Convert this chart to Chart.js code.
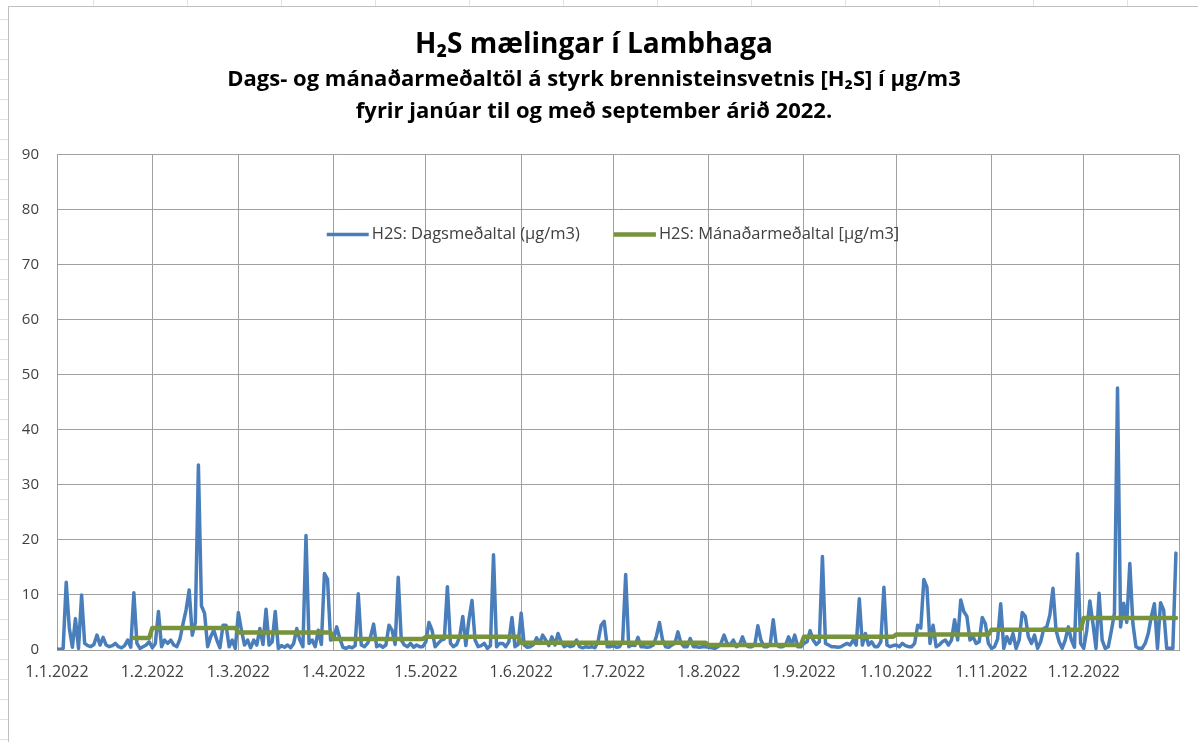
<!DOCTYPE html>
<html lang="is">
<head>
<meta charset="utf-8">
<title>H2S mælingar í Lambhaga</title>
<script src="https://cdn.jsdelivr.net/npm/chart.js@4.4.1/dist/chart.umd.min.js"></script>
<style>
  html, body { margin: 0; padding: 0; }
  body { width: 1198px; height: 742px; overflow: hidden; position: relative; background: #fff; }
  /* spreadsheet cells peeking out round the chart */
  #sheetTop { position: absolute; left: 0; top: 0; width: 1198px; height: 6px;
    background-image: repeating-linear-gradient(to right, transparent 0 93px, #e1e1e1 93px 94px); }
  #sheetLeft { position: absolute; left: 0; top: 0; width: 8px; height: 742px;
    background-image: repeating-linear-gradient(to bottom, transparent 0 19px, #e1e1e1 19px 20px); }
  #frame { position: absolute; left: 8px; top: 6px; width: 1190px; height: 736px;
    border-left: 1px solid #c0c0c0; border-top: 1px solid #c0c0c0; background: #fff; }
  canvas { display: block; }
</style>
</head>
<body>
<div id="sheetTop"></div>
<div id="sheetLeft"></div>
<div id="frame"><canvas id="chart" width="1189" height="735"></canvas></div>
<script>
// day index 0 = 1.1.2022
const monthStartDays = [0, 31, 59, 90, 120, 151, 181, 212, 243, 273, 304, 334];
const monthLabels = ['1.1.2022', '1.2.2022', '1.3.2022', '1.4.2022', '1.5.2022', '1.6.2022',
  '1.7.2022', '1.8.2022', '1.9.2022', '1.10.2022', '1.11.2022', '1.12.2022'];
const yearDays = 365;

// Dagsmeðaltal, one row per month
const dailyMean = [
  0.2,0.1,0.3,12.3,4,0.5,5.7,0.3,10,1.2,0.8,0.6,1.0,2.7,0.9,2.3,0.9,0.6,0.8,1.2,0.6,0.4,0.8,1.8,0.5,10.4,1.2,0.3,0.6,0.9,1.5,
  0.4,1.2,7.0,0.6,1.8,1.2,1.8,0.9,0.6,2.0,4.8,7.3,10.9,2.7,5,33.6,8,6.7,0.6,2.4,3.6,1.8,0.4,4.5,4.5,0.6,1.8,0.3,
  6.8,3.6,0.9,1.8,0.4,1.8,0.9,3.9,1.0,7.4,0.9,1.5,7.0,0.3,0.8,0.5,0.9,0.4,1.2,3.9,1.8,0.6,20.8,1.2,1.8,0.6,3.6,1.0,13.9,12.9,1.8,
  2.0,4.2,2.1,0.5,0.3,0.6,0.4,0.8,10.2,0.9,0.6,1.2,2.4,4.7,0.6,0.9,0.5,0.9,4.5,3.6,1.0,13.2,1.8,0.9,0.6,1.2,0.5,0.9,0.6,0.6,
  1.5,5.0,3.6,0.6,1.2,1.8,2.0,11.5,1.2,0.6,1.0,2.4,6.1,0.8,5.5,9.0,1.8,0.6,0.8,1.2,0.3,0.8,17.3,0.6,1.2,1.2,0.6,1.5,5.9,0.6,1.0,
  6.7,0.9,0.5,0.6,1.0,2.2,1.2,2.7,1.8,0.8,2.4,0.9,3.0,1.5,0.6,0.9,0.6,0.8,1.8,0.6,0.4,0.6,0.5,0.6,0.4,1.5,4.5,5.2,0.6,0.6,
  0.8,0.5,0.6,1.5,13.7,0.6,0.9,0.8,2.3,0.6,0.6,0.5,0.6,0.9,2.5,5.0,1.8,0.6,0.5,0.9,1.2,3.3,1.2,0.6,0.6,2.1,0.6,0.6,0.5,0.6,0.6,
  0.5,0.4,0.3,0.6,1.2,2.7,1.2,0.9,1.8,0.6,0.9,2.4,0.9,0.6,0.6,0.9,4.4,1.8,0.6,0.6,0.9,5.5,0.9,0.6,0.6,0.9,2.4,0.9,2.7,0.6,0.6,
  1.2,1.5,3.5,1.8,1.0,1.5,17.0,1.2,0.9,0.6,0.6,0.5,0.6,0.9,1.2,0.9,1.8,0.9,9.3,0.9,3.0,0.9,1.5,0.6,0.6,1.5,11.4,0.9,0.6,0.8,
  0.9,0.6,1.2,0.8,0.6,0.6,1.2,4.5,4.0,12.8,11.4,1.2,4.5,0.6,0.9,1.5,1.8,0.9,1.8,5.5,1.8,9.1,7.0,6.1,1.8,2.4,1.2,1.5,5.9,4.8,1.2,
  0.3,0.6,2.0,8.4,0.3,2.4,1.2,3.0,0.3,1.8,6.8,6.1,2.4,1.2,2.7,0.3,1.5,3.9,4.2,6.4,11.2,3.6,1.5,0.3,1.8,4.2,1.8,0.5,17.5,1.2,
  0.3,3.6,8.9,4.8,0.3,10.3,1.8,0.3,0.6,3.5,6.7,47.6,4.2,8.5,5.0,15.7,4.8,0.6,0.3,0.3,1.2,3.0,6.1,8.4,0.3,8.6,7.3,0.3,0.3,0.3,17.6
];

// Mánaðarmeðaltal per month, the monthly line only starts on 26.1
const monthlyMean = [2.2, 4.0, 3.2, 2.0, 2.4, 1.3, 1.3, 0.9, 2.4, 2.8, 3.7, 5.8];
const monthlyFirstDay = 25;

const dailyPoints = dailyMean.map((v, i) => ({ x: i, y: v }));
const monthlyPoints = dailyMean.map((v, i) => {
  let m = 0;
  while (m < 11 && i >= monthStartDays[m + 1]) m++;
  return { x: i, y: i < monthlyFirstDay ? null : monthlyMean[m] };
});

const tickDays = monthStartDays.concat([yearDays]);
const FONT = "'Open Sans', 'Noto Sans', 'DejaVu Sans', sans-serif";
Chart.defaults.font.family = FONT;

// legend sits inside the plot, like the excel one
const legendInside = {
  id: 'legendInside',
  afterDatasetsDraw(chart) {
    const ctx = chart.ctx;
    const area = chart.chartArea;
    const sample = 42, gap = 3, itemGap = 34;
    ctx.save();
    ctx.font = '16.5px ' + FONT;
    const items = chart.data.datasets.map(ds => ({ ds: ds, w: sample + gap + ctx.measureText(ds.label).width }));
    const total = items.reduce((a, it) => a + it.w, 0) + itemGap * (items.length - 1);
    let x = (area.left + area.right) / 2 - total / 2 - 5;
    const y = area.top + 80;
    items.forEach(it => {
      ctx.strokeStyle = it.ds.borderColor;
      ctx.lineWidth = it.ds.borderWidth;
      ctx.beginPath();
      ctx.moveTo(x, y);
      ctx.lineTo(x + sample, y);
      ctx.stroke();
      ctx.fillStyle = '#404040';
      ctx.textBaseline = 'middle';
      ctx.fillText(it.ds.label, x + sample + gap, y);
      x += it.w + itemGap;
    });
    ctx.restore();
  }
};

new Chart(document.getElementById('chart'), {
  type: 'line',
  data: {
    datasets: [
      { label: 'H2S: Dagsmeðaltal (µg/m3)', data: dailyPoints, borderColor: '#4a7ebb', borderWidth: 3.5, order: 1 },
      { label: 'H2S: Mánaðarmeðaltal [µg/m3]', data: monthlyPoints, borderColor: '#77933c', borderWidth: 4.5, order: 0 }
    ]
  },
  options: {
    responsive: false,
    animation: false,
    elements: {
      point: { radius: 0 },
      line: { tension: 0, borderJoinStyle: 'round', borderCapStyle: 'round' }
    },
    layout: { padding: { left: 0, right: 19, top: 0, bottom: 52 } },
    plugins: {
      legend: { display: false },
      tooltip: { enabled: false },
      title: {
        display: true,
        text: 'H₂S mælingar í Lambhaga',
        color: '#000',
        font: { size: 28, weight: 'bold' },
        padding: { top: 21, bottom: 2 }
      },
      subtitle: {
        display: true,
        text: ['Dags- og mánaðarmeðaltöl á styrk brennisteinsvetnis [H₂S] í µg/m3',
               'fyrir janúar til og með september árið 2022.'],
        color: '#000',
        font: { size: 22, weight: 'bold', lineHeight: 1.455 },
        padding: { top: 0, bottom: 27 }
      }
    },
    scales: {
      x: {
        type: 'linear',
        min: 0,
        max: yearDays,
        afterBuildTicks: s => { s.ticks = tickDays.map(v => ({ value: v })); },
        afterFit: s => { s.height = 40; },
        ticks: {
          autoSkip: false,
          maxRotation: 0,
          padding: 13,
          color: '#404040',
          font: { size: 16 },
          callback: v => { const k = monthStartDays.indexOf(v); return k >= 0 ? monthLabels[k] : ''; }
        },
        grid: { color: '#a0a0a0', drawTicks: false },
        border: { color: '#a0a0a0' }
      },
      y: {
        min: 0,
        max: 90,
        afterFit: s => { s.width = 48; },
        ticks: { stepSize: 10, padding: 18, color: '#404040', font: { size: 15 } },
        grid: { color: '#a0a0a0', drawTicks: false },
        border: { color: '#a0a0a0' }
      }
    }
  },
  plugins: [legendInside]
});
</script>
</body>
</html>
